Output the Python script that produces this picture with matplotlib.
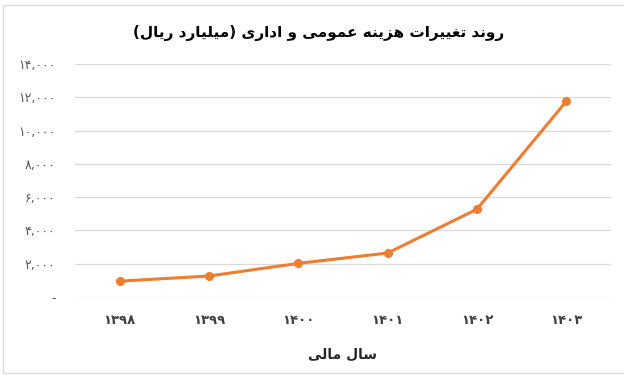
import matplotlib
matplotlib.use('Agg')
import matplotlib.pyplot as plt
from matplotlib.patches import Rectangle

# Data (billion rials)
years = ['۱۳۹۸', '۱۳۹۹', '۱۴۰۰', '۱۴۰۱', '۱۴۰۲', '۱۴۰۳']
costs = [950, 1260, 2020, 2640, 5270, 11750]
y_ticks = [0, 2000, 4000, 6000, 8000, 10000, 12000, 14000]
title_text = 'روند تغییرات هزینه عمومی و اداری (میلیارد ریال)'
xlabel_text = 'سال مالی'

# --- minimal Arabic/Persian shaping (matplotlib has no text shaping) ---
# letter: (isolated, final, initial, medial); right-joining letters have 2 forms
FORMS = {
    'ا': ('\uFE8D', '\uFE8E'),
    'د': ('\uFEA9', '\uFEAA'),
    'ر': ('\uFEAD', '\uFEAE'),
    'ز': ('\uFEAF', '\uFEB0'),
    'و': ('\uFEED', '\uFEEE'),
    'ب': ('\uFE8F', '\uFE90', '\uFE91', '\uFE92'),
    'ت': ('\uFE95', '\uFE96', '\uFE97', '\uFE98'),
    'س': ('\uFEB1', '\uFEB2', '\uFEB3', '\uFEB4'),
    'ع': ('\uFEC9', '\uFECA', '\uFECB', '\uFECC'),
    'غ': ('\uFECD', '\uFECE', '\uFECF', '\uFED0'),
    'ل': ('\uFEDD', '\uFEDE', '\uFEDF', '\uFEE0'),
    'م': ('\uFEE1', '\uFEE2', '\uFEE3', '\uFEE4'),
    'ن': ('\uFEE5', '\uFEE6', '\uFEE7', '\uFEE8'),
    'ه': ('\uFEE9', '\uFEEA', '\uFEEB', '\uFEEC'),
    'ی': ('\uFBFC', '\uFBFD', '\uFBFE', '\uFBFF'),
}
MIRROR = {'(': ')', ')': '('}


def shape(text):
    out = []
    n = len(text)
    for i, ch in enumerate(text):
        f = FORMS.get(ch)
        if f is None:
            out.append(MIRROR.get(ch, ch))
            continue
        prev = text[i - 1] if i > 0 else ''
        nxt = text[i + 1] if i < n - 1 else ''
        join_prev = prev in FORMS and len(FORMS[prev]) == 4
        join_next = len(f) == 4 and nxt in FORMS
        if join_prev and join_next:
            out.append(f[3])
        elif join_prev:
            out.append(f[1])
        elif join_next:
            out.append(f[2])
        else:
            out.append(f[0])
    return ''.join(reversed(out))


def fa_num(v):
    if v == 0:
        return '-'
    s = f'{v:,}'
    return s.translate(str.maketrans('0123456789', '۰۱۲۳۴۵۶۷۸۹'))


plt.rcParams['font.family'] = ['DejaVu Sans']

fig = plt.figure(figsize=(6.24, 3.81), dpi=100)
ax = fig.add_axes([0.120, 0.2205, 0.859, 0.6115])

x = list(range(len(years)))
ax.plot(x, costs, color='#ED7D31', linewidth=2.2, marker='o', markersize=5.5,
        solid_capstyle='round', zorder=3)

ax.set_xlim(-0.5, len(years) - 0.5)
ax.set_ylim(0, 14000)
ax.set_yticks(y_ticks)
ax.set_yticklabels([fa_num(v) for v in y_ticks], fontsize=9, color='#595959')
ax.set_xticks(x)
ax.set_xticklabels(years, fontsize=9.5, color='#404040', fontweight='bold')
ax.tick_params(axis='y', length=0, pad=14)
ax.tick_params(axis='x', length=0, pad=12)
ax.grid(axis='y', color='#D9D9D9', linewidth=0.9)
ax.set_axisbelow(True)
for s in ax.spines.values():
    s.set_visible(False)

ax.set_xlabel(shape(xlabel_text), fontsize=10, fontweight='bold', color='#262626', labelpad=15)
fig.text(0.51, 0.913, shape(title_text), ha='center', va='center',
         fontsize=11, fontweight='bold', color='#000000')

# light chart frame
fig.patches.append(Rectangle((2.5 / 624, 1 - 372.5 / 381), 1.1, (372.5 - 4.5) / 381,
                             transform=fig.transFigure, fill=False,
                             edgecolor='#D9D9D9', linewidth=1.0))

fig.savefig('out.png', dpi=100, facecolor='white')
